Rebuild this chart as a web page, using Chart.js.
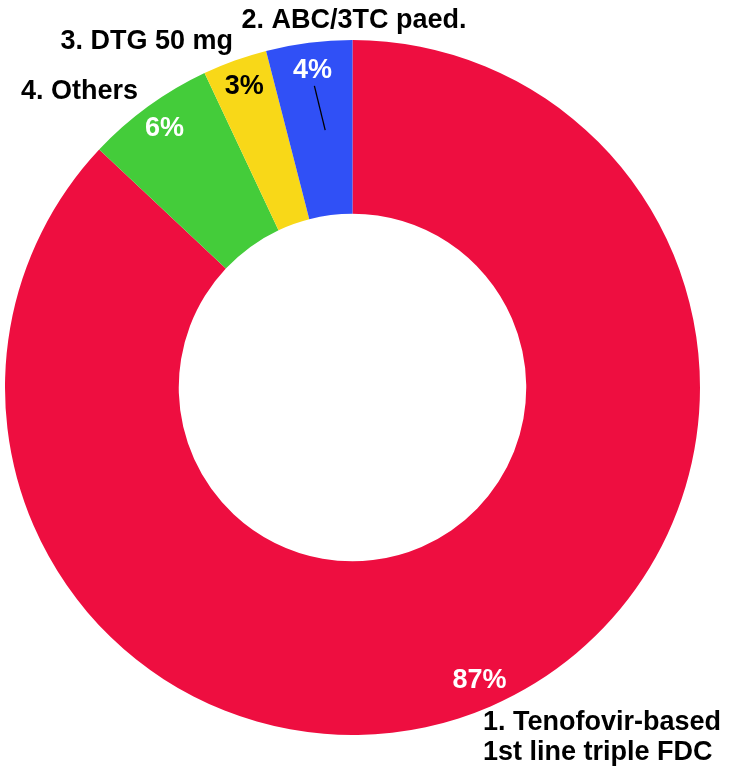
<!DOCTYPE html>
<html>
<head>
<meta charset="utf-8">
<script src="https://cdn.jsdelivr.net/npm/chart.js@4"></script>
<style>
  html, body { margin: 0; padding: 0; background: #fff; }
  #wrap { width: 730px; height: 771px; }
</style>
</head>
<body>
<div id="wrap"><canvas id="pie"></canvas></div>
<script>
// drawn clockwise from 12 o'clock
const labels = ['1. Tenofovir-based 1st line triple FDC', '4. Others', '3. DTG 50 mg', '2. ABC/3TC paed.'];
const values = [87, 6, 3, 4];
const colors = ['#EE0E40', '#44CC3A', '#F8D818', '#3050F6'];
const pctColors = ['#ffffff', '#ffffff', '#000000', '#ffffff'];

const FONT = 'bold 27px Arial, "Liberation Sans", sans-serif';

// outer category labels, placed round the ring by hand
const outerLabels = [
  { lines: ['1. Tenofovir-based', '1st line triple FDC'], x: 483, y: 723, align: 'left' },
  { lines: ['4. Others'], x: 138, y: 92, align: 'right' },
  { lines: ['3. DTG 50 mg'], x: 233, y: 42, align: 'right' },
  { lines: ['2. ABC/3TC paed.'], x: 354, y: 21, align: 'center' }
];

const labelPlugin = {
  id: 'sliceLabels',
  afterDraw(chart) {
    const ctx = chart.ctx;
    const arcs = chart.getDatasetMeta(0).data;
    ctx.save();
    ctx.font = FONT;
    ctx.textBaseline = 'middle';
    arcs.forEach((arc, i) => {
      const mid = (arc.startAngle + arc.endAngle) / 2;
      const r = arc.outerRadius * 0.92;
      const px = arc.x + Math.cos(mid) * r;
      const py = arc.y + Math.sin(mid) * r;
      ctx.fillStyle = pctColors[i];
      ctx.textAlign = 'center';
      ctx.fillText(values[i] + '%', px, py);
      if (i === 3) {
        // small leader line under the 4%
        ctx.strokeStyle = '#000';
        ctx.lineWidth = 1.3;
        ctx.beginPath();
        ctx.moveTo(arc.x + Math.cos(mid) * arc.outerRadius * 0.875, arc.y + Math.sin(mid) * arc.outerRadius * 0.875);
        ctx.lineTo(arc.x + Math.cos(mid + 0.02) * arc.outerRadius * 0.745, arc.y + Math.sin(mid + 0.02) * arc.outerRadius * 0.745);
        ctx.stroke();
      }
    });
    ctx.fillStyle = '#000';
    outerLabels.forEach(l => {
      ctx.textAlign = l.align;
      l.lines.forEach((t, k) => ctx.fillText(t, l.x, l.y + k * 30));
    });
    ctx.restore();
  }
};

new Chart(document.getElementById('pie'), {
  type: 'doughnut',
  data: {
    labels: labels,
    datasets: [{
      data: values,
      backgroundColor: colors,
      borderWidth: 0
    }]
  },
  options: {
    responsive: true,
    maintainAspectRatio: false,
    animation: false,
    cutout: '50%',
    layout: { padding: { left: 5, right: 30, top: 40, bottom: 36 } },
    plugins: {
      legend: { display: false },
      tooltip: { enabled: false }
    }
  },
  plugins: [labelPlugin]
});
</script>
</body>
</html>
